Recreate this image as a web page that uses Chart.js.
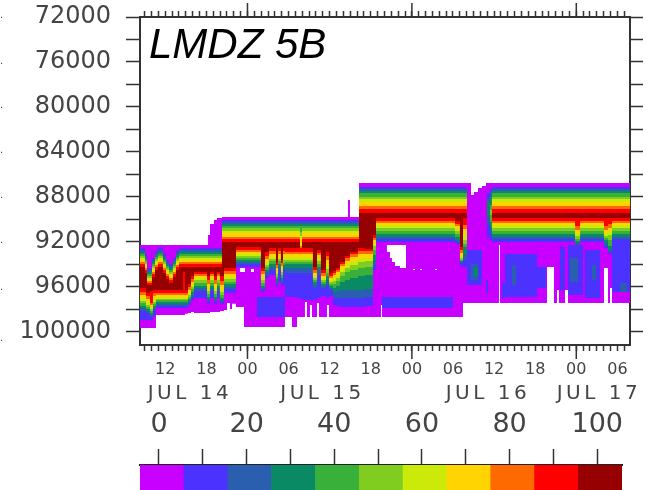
<!DOCTYPE html>
<html>
<head>
<meta charset="utf-8">
<title>LMDZ 5B</title>
<script src="https://cdn.jsdelivr.net/npm/chart.js@4"></script>
<style>
    body { margin: 0; background: #fff; }
    #myChart { position: absolute; left: 0; top: 0; }
    #colorBar { position: absolute; left: 0; top: 405px; }
</style>
</head>
<body>
<canvas id="myChart" width="647" height="490"></canvas>
<canvas id="colorBar" width="647" height="85"></canvas>
<script>
// pressure (Pa) of the cloud fraction bands against hours since JUL 14 00
// every row is [hour, purple, blue, steel, teal, green, ltgreen, lime, yellow, orange, red, darkred]
const barTicks = [0, 10, 20, 30, 40, 50, 60, 70, 80, 90, 100];
const barCenters = [0.7, 10.7, 20.7, 30.7, 40.7, 50.7, 60.7, 70.7, 80.7, 90.7, 100.7];
const bandColors = ["#c800ff", "#4b32ff", "#2a5fb0", "#0a8a64", "#38b03a", "#80cd20", "#ccea0a", "#ffd400", "#ff6a00", "#ff0000", "#960000"];

const startHour = 8.31;
const endHour = 79.84;
const pressureTicks = [72000, 74000, 76000, 78000, 80000, 82000, 84000, 86000, 88000, 90000, 92000, 94000, 96000, 98000, 100000];
const hourTicks = [9, 10, 11, 12, 13, 14, 15, 16, 17, 18, 19, 20, 21, 22, 23, 24, 25, 26, 27, 28, 29, 30, 31, 32, 33, 34, 35, 36, 37, 38, 39, 40, 41, 42, 43, 44, 45, 46, 47, 48, 49, 50, 51, 52, 53, 54, 55, 56, 57, 58, 59, 60, 61, 62, 63, 64, 65, 66, 67, 68, 69, 70, 71, 72, 73, 74, 75, 76, 77, 78, 79];
const dayTickHours = [24, 48, 72];
const dayLabels = ["JUL 14", "JUL 15", "JUL 16", "JUL 17"];
const dayLabelHours = [15.6, 34.95, 59.1, 75.3];
const leftDots = [72090, 76180, 80090, 84100, 88100, 92100, 96300, 100830];

const topFirstDay = [92290, 92550, 92730, 92910, 93090, 93260, 93440, 93620, 93800, 93980, 94240];
const topSecondDay = [89790, 90060, 90240, 90420, 90600, 90770, 91040, 91220, 91570, 91750, 92020];
const topThirdDay = [86770, 87130, 87300, 87480, 87660, 88020, 88190, 88460, 88820, 89080, 89440];

const topRows = [
    [8.30, ...topFirstDay],
    [9.04, 92290, 93090, 93260, 93440, 93620, 93800, 93980, 94150, 94330, 94510, 94780],
    [9.33, 92290, 94330, 94510, 94690, 94870, 95040, 95220, 95400, 95490, 95670, 95850],
    [10.06, 92290, 93440, 93620, 93800, 93980, 94150, 94330, 94510, 94690, 94870, 95130],
    [10.50, 92290, 92820, 93000, 93180, 93350, 93530, 93710, 93890, 94070, 94240, 94510],
    [10.93, ...topFirstDay],
    [11.66, 92290, 93090, 93260, 93440, 93620, 93800, 93980, 94150, 94330, 94510, 94780],
    [12.10, 92290, 93620, 93800, 93980, 94150, 94330, 94510, 94690, 94870, 95040, 95310],
    [12.54, 92290, 93980, 94150, 94330, 94510, 94690, 94870, 95040, 95220, 95400, 95670],
    [13.12, 92290, 93440, 93620, 93800, 93980, 94150, 94330, 94510, 94690, 94870, 95130],
    [13.56, 92290, 92820, 93000, 93180, 93350, 93530, 93710, 93890, 94070, 94240, 94510],
    [14.00, ...topFirstDay],
    [18.23, 91400, 92550, 92730, 92910, 93090, 93260, 93440, 93620, 93800, 93980, 94240],
    [18.53, 90420, 92550, 92730, 92910, 93090, 93260, 93440, 93620, 93800, 93980, 94240],
    [19.11, 90060, 92550, 92730, 92910, 93090, 93260, 93440, 93620, 93800, 93980, 94240],
    [19.55, 89880, 92550, 92730, 92910, 93090, 93260, 93440, 93620, 93800, 93980, 94240],
    [20.28, ...topSecondDay],
    [31.66, 89790, 90060, 90240, 90420, 90600, 91130, 91490, 91840, 92370, 92550, 92730],
    [31.96, ...topSecondDay],
    [38.67, 88280, 90060, 90240, 90420, 90600, 90770, 91040, 91220, 91570, 91750, 92020],
    [38.96, ...topSecondDay],
    [40.28, ...topThirdDay],
    [56.04, 86770, 92730, 97180, 97180, 97180, 97180, 97180, 97180, 97180, 97180, 97180],
    [56.63, 87840, 92730, 93980, 97180, 97180, 97180, 97180, 97180, 97180, 97180, 97180],
    [57.07, 87570, 92730, 93980, 94330, 97180, 97180, 97180, 97180, 97180, 97180, 97180],
    [57.65, 87210, 92730, 97180, 97180, 97180, 97180, 97180, 97180, 97180, 97180, 97180],
    [58.23, 87040, 97180, 97180, 97180, 97180, 97180, 97180, 97180, 97180, 97180, 97180],
    [58.82, 86770, 97180, 97180, 97180, 97180, 97180, 97180, 97180, 97180, 97180, 97180],
    [58.96, 86770, 87660, 88100, 88460, 97180, 97180, 97180, 97180, 97180, 97180, 97180],
    [59.40, 86770, 87300, 87570, 88020, 88730, 89170, 97180, 97180, 97180, 97180, 97180],
    [59.69, ...topThirdDay],
    [79.84, ...topThirdDay]
];

const bottomFirstDay = [
    [8.30, 99670, 98960, 98160, 97890, 97710, 97450, 97270, 97000, 96730, 96470, 96110],
    [9.18, 99670, 98960, 98340, 98160, 97980, 97800, 97620, 97360, 97090, 96820, 96560],
    [9.77, 99670, 98960, 98690, 98510, 98340, 98160, 97980, 97800, 97620, 97450, 96380],
    [10.20, 99670, 98600, 98070, 97890, 97710, 97530, 97360, 97090, 96820, 96560, 96290],
    [10.64, 98510, 97890, 97710, 97530, 97360, 97180, 97090, 96910, 96730, 96560, 96290],
    [14.58, 98510, 97890, 97710, 97530, 97360, 97180, 97090, 96910, 96730, 96560, 94690],
    [14.88, 98420, 97890, 97710, 97530, 97360, 97180, 97090, 96910, 96730, 96560, 96290],
    [15.31, 98340, 97620, 97450, 97270, 97090, 96910, 96730, 96470, 96290, 96020, 95760],
    [15.75, 98250, 97180, 96910, 96730, 96470, 96200, 96020, 95760, 95580, 95310, 95040],
    [16.19, 98340, 97000, 96380, 96110, 95930, 95670, 95400, 95220, 95040, 94870, 94690],
    [18.09, 98340, 97530, 97270, 97090, 96910, 96650, 96380, 96110, 95760, 95400, 95040],
    [18.53, 98250, 97000, 96380, 96110, 95930, 95670, 95400, 95220, 95040, 94870, 94690],
    [19.11, 98250, 97530, 97270, 97090, 96910, 96650, 96380, 96110, 95760, 95400, 95040],
    [19.55, 98250, 97000, 96380, 96110, 95930, 95670, 95400, 95220, 95040, 94870, 94690],
    [19.98, 98160, 97530, 97360, 97180, 97000, 96730, 96470, 96200, 95850, 95490, 95040],
    [20.57, 98070, 96560, 96200, 96020, 95760, 95580, 95310, 95130, 94870, 94600, 94330],
    [21.01, 97450, 96560, 96200, 96020, 95760, 95580, 95310, 95130, 94870, 94600, 94330],
    [21.45, 97980, 96560, 96200, 96020, 95760, 95580, 95310, 95130, 94870, 94600, 94330],
    [21.74, 97530, 96560, 96200, 96020, 95760, 95580, 95310, 95130, 94870, 94600, 94330]
];

const bottomSecondDay = [
    [22.32, 97800, 94240, 93980, 93800, 93620, 93440, 93260, 93090, 92910, 92730, 92460],
    [23.49, 99580, 94240, 93980, 93800, 93620, 93440, 93260, 93090, 92910, 92730, 92460],
    [25.97, 99580, 96470, 96290, 96110, 95930, 95670, 95400, 95130, 94870, 94600, 94330],
    [26.55, 99580, 95220, 94950, 94690, 94510, 94240, 94070, 93800, 93530, 93260, 92910],
    [27.14, 99580, 94950, 94510, 94240, 93980, 93710, 93530, 93350, 93090, 92820, 92550],
    [28.16, 99580, 96020, 95760, 95580, 95310, 95130, 94870, 94600, 94330, 94070, 93800],
    [28.45, 99580, 95580, 94510, 94240, 93980, 93710, 93530, 93350, 93090, 92820, 92550],
    [28.89, 99580, 95930, 95670, 95490, 95220, 94950, 94690, 94420, 94150, 93890, 93620],
    [29.18, 99580, 95850, 94510, 94240, 94070, 93890, 93620, 93350, 93090, 92820, 92550],
    [29.47, 98690, 96910, 94780, 94330, 93980, 93800, 93620, 93350, 93090, 92910, 92550],
    [30.50, 99580, 96910, 94780, 94330, 93980, 93800, 93620, 93350, 93090, 92910, 92550],
    [31.23, 98690, 97000, 94780, 94330, 93980, 93800, 93620, 93350, 93090, 92910, 92550],
    [31.66, 98690, 97000, 94780, 94330, 93980, 93800, 93620, 93350, 93090, 92910, 92730],
    [31.96, 98690, 97180, 94780, 94330, 93980, 93800, 93620, 93350, 93090, 92910, 92550],
    [32.39, 97360, 97180, 94780, 94330, 93980, 93800, 93620, 93350, 93090, 92910, 92550],
    [32.69, 98690, 97180, 94780, 94330, 93980, 93800, 93620, 93350, 93090, 92910, 92550],
    [33.12, 97620, 97180, 94780, 94330, 93980, 93800, 93620, 93350, 93090, 92910, 92550],
    [33.42, 98690, 97180, 94780, 94330, 93980, 93800, 93620, 93350, 93090, 92910, 92550],
    [33.56, 98690, 97180, 96110, 95850, 95580, 95400, 95220, 94950, 94780, 94510, 94240],
    [34.15, 97450, 97000, 94950, 94510, 94240, 93980, 93710, 93440, 93180, 93000, 92730],
    [34.44, 98690, 97000, 94950, 94510, 94240, 93980, 93710, 93440, 93180, 93000, 92730],
    [34.73, 98690, 96820, 96110, 95930, 95760, 95580, 95400, 95220, 95040, 94780, 94510],
    [35.46, 98690, 97000, 95850, 95400, 95040, 94780, 94420, 94070, 93620, 93260, 92910],
    [35.61, 97620, 97000, 95850, 95400, 95040, 94780, 94420, 94070, 93620, 93260, 92910],
    [35.90, 98690, 96820, 96290, 96110, 95930, 95760, 95580, 95400, 95220, 95040, 94780],
    [36.48, 98690, 97620, 97000, 96470, 96110, 95760, 95490, 95220, 94950, 94780, 94600],
    [36.92, 98690, 97710, 97000, 96380, 95930, 95490, 95220, 94950, 94690, 94510, 94330],
    [37.50, 98690, 97800, 97000, 96290, 95580, 95040, 94690, 94420, 94150, 93980, 93800],
    [38.23, 98690, 97800, 97000, 96290, 95400, 94690, 94330, 93980, 93710, 93440, 93260],
    [38.96, 98690, 97800, 97000, 96290, 95220, 94510, 94070, 93710, 93350, 93090, 92910],
    [40.13, 98690, 97800, 97000, 96290, 95040, 94330, 93800, 93440, 93090, 92820, 92550],
    [41.15, 98690, 97710, 96910, 96200, 94950, 94240, 93710, 93440, 93090, 92820, 92640],
    [42.32, 98690, 94510, 94070, 93620, 93180, 92730, 92370, 92110, 91840, 91660, 91400]
];

const bottomThirdDay = [
    [42.76, 98690, 92020, 91750, 91570, 91310, 91040, 90770, 90510, 90330, 90150, 89880],
    [43.49, 97620, 92020, 91750, 91570, 91310, 91040, 90770, 90510, 90330, 90150, 89880],
    [43.64, 98690, 92020, 91750, 91570, 91310, 91040, 90770, 90510, 90330, 90150, 89880],
    [54.29, 98690, 92200, 92020, 91840, 91570, 91310, 91040, 90770, 90600, 90420, 90150],
    [55.02, 98690, 94150, 93890, 93800, 93710, 93620, 93440, 93260, 93000, 92730, 92460],
    [55.46, 97450, 94240, 93620, 93180, 92460, 92200, 91840, 91220, 90860, 90510, 89880],
    [56.04, 97450, 95850, 97180, 97180, 97180, 97180, 97180, 97180, 97180, 97180, 97180],
    [56.63, 97450, 95850, 95400, 97180, 97180, 97180, 97180, 97180, 97180, 97180, 97180],
    [57.07, 97450, 95850, 95400, 95040, 97180, 97180, 97180, 97180, 97180, 97180, 97180],
    [57.65, 97450, 95850, 97180, 97180, 97180, 97180, 97180, 97180, 97180, 97180, 97180],
    [58.23, 97450, 97180, 97180, 97180, 97180, 97180, 97180, 97180, 97180, 97180, 97180],
    [58.96, 97450, 91660, 90510, 89790, 97180, 97180, 97180, 97180, 97180, 97180, 97180],
    [59.40, 97450, 91840, 91220, 90770, 90240, 89620, 97180, 97180, 97180, 97180, 97180]
];

const bottomLastDay = [
    [59.69, 97450, 92020, 91750, 91570, 91310, 91040, 90770, 90510, 90330, 90150, 89880],
    [60.72, 92290, 92020, 91750, 91570, 91310, 91040, 90770, 90510, 90330, 90150, 89880],
    [60.86, 97450, 92020, 91750, 91570, 91310, 91040, 90770, 90510, 90330, 90150, 89880],
    [67.72, 94240, 92020, 91750, 91570, 91310, 91040, 90770, 90510, 90330, 90150, 89880],
    [68.74, 97450, 92020, 91750, 91570, 91310, 91040, 90770, 90510, 90330, 90150, 89880],
    [69.18, 96290, 92020, 91750, 91570, 91310, 91040, 90770, 90510, 90330, 90150, 89880],
    [69.47, 97450, 92020, 91750, 91570, 91310, 91040, 90770, 90510, 90330, 90150, 89880],
    [70.35, 96290, 92020, 91750, 91570, 91310, 91040, 90770, 90510, 90330, 90150, 89880],
    [70.79, 97450, 92020, 91750, 91570, 91310, 91040, 90770, 90510, 90330, 90150, 89880],
    [71.82, 97450, 92460, 92290, 92110, 91930, 91750, 91490, 91220, 90950, 90600, 89880],
    [72.55, 97450, 92020, 91750, 91570, 91310, 91040, 90770, 90510, 90330, 90150, 89880],
    [76.04, 94330, 92550, 92370, 92110, 91840, 91660, 91490, 91220, 90950, 90600, 89880],
    [76.63, 97450, 93090, 92910, 92730, 92370, 91840, 91400, 91040, 90770, 90420, 89880],
    [76.92, 96110, 93090, 92910, 92730, 92370, 91840, 91400, 91040, 90770, 90420, 89880],
    [77.21, 97450, 92020, 91750, 91570, 91310, 91040, 90770, 90510, 90330, 90150, 89880],
    [79.84, 97450, 92020, 91750, 91570, 91310, 91040, 90770, 90510, 90330, 90150, 89880]
];

// low level patches, rows are [hour, top, bottom]; top == bottom means nothing there
const bluePatches = [
    [8.30, 97180, 97180], [25.39, 96910, 98690], [29.47, 97180, 97180],
    [43.64, 96910, 97890], [53.98, 97180, 97180], [58.82, 95400, 96560],
    [59.11, 97180, 97180], [61.15, 95670, 97000], [61.59, 93090, 96910],
    [66.26, 94240, 96110], [67.58, 97180, 97180], [69.62, 92460, 96290],
    [70.35, 97180, 97180], [70.79, 92290, 96730], [72.98, 97180, 97180],
    [73.27, 92730, 97000], [75.46, 97180, 97180], [77.21, 92020, 96470],
    [79.84, 92020, 96470]
];
const steelPatches = [
    [8.30, 97180, 97180], [62.61, 94070, 95850], [63.20, 97180, 97180],
    [71.08, 93440, 95580], [72.25, 97180, 97180], [74.29, 94070, 95400],
    [74.88, 97180, 97180], [78.38, 95670, 96470], [79.40, 97180, 97180],
    [79.84, 97180, 97180]
];
const clearPatches = [
    [8.30, 97180, 97180], [22.90, 94330, 94690], [23.64, 97180, 97180],
    [24.51, 94420, 94690], [24.95, 97180, 97180], [44.36, 92290, 92910],
    [44.80, 92290, 93440], [45.09, 92290, 93800], [45.53, 92290, 94150],
    [46.26, 92290, 94330], [47.14, 97180, 97180], [48.16, 94420, 94510],
    [48.45, 97180, 97180], [49.18, 94420, 94510], [49.47, 97180, 97180],
    [51.37, 94420, 94510], [51.66, 97180, 97180], [79.84, 97180, 97180]
];

const bottomRows = [...bottomFirstDay, ...bottomSecondDay, ...bottomThirdDay, ...bottomLastDay];

function edge(rows, col) {
    return rows.map(row => ({ x: row[0], y: row[col] }));
}

function band(rows, topCol, bottomRowsUsed, bottomCol, color) {
    const line = { pointRadius: 0, borderWidth: 0, stepped: true };
    return [
        { ...line, data: edge(rows, topCol), fill: "+1", backgroundColor: color },
        { ...line, data: edge(bottomRowsUsed, bottomCol), fill: false }
    ];
}

// lower index is painted last, so the inner bands sit on the outer ones
const datasets = [
    ...band(clearPatches, 1, clearPatches, 2, "#ffffff"),
    ...band(steelPatches, 1, steelPatches, 2, bandColors[2]),
    ...band(bluePatches, 1, bluePatches, 2, bandColors[1])
];
for (let level = 10; level >= 0; level--) {
    datasets.push(...band(topRows, level + 1, bottomRows, level + 1, bandColors[level]));
}

const axisColor = "#333";
const textColor = "#444";

const extras = {
    id: "extras",
    afterDraw(chart) {
        const ctx = chart.ctx;
        const x = chart.scales.x;
        const area = chart.chartArea;
        ctx.save();

        // day ticks are longer than the hourly ones
        ctx.strokeStyle = axisColor;
        ctx.lineWidth = 1.5;
        dayTickHours.forEach(h => {
            const px = x.getPixelForValue(h);
            ctx.beginPath();
            ctx.moveTo(px, area.top - 14);
            ctx.lineTo(px, area.top);
            ctx.moveTo(px, area.bottom);
            ctx.lineTo(px, area.bottom + 14);
            ctx.stroke();
        });

        ctx.fillStyle = textColor;
        ctx.textAlign = "center";
        ctx.textBaseline = "middle";
        ctx.font = "20px 'DejaVu Sans'";
        ctx.letterSpacing = "3.5px";
        dayLabels.forEach((label, i) => {
            ctx.fillText(label, x.getPixelForValue(dayLabelHours[i]), 394);
        });
        ctx.letterSpacing = "0px";

        ctx.textAlign = "left";
        ctx.textBaseline = "alphabetic";
        ctx.fillStyle = "#000";
        ctx.font = "italic 42px 'Liberation Sans'";
        ctx.fillText("LMDZ 5B", 149, 58);

        // bits of a cut off axis at the window edge
        ctx.fillStyle = textColor;
        ctx.font = "10px 'DejaVu Sans'";
        leftDots.forEach(p => {
            ctx.fillText(".", 0, chart.scales.y.getPixelForValue(p));
        });
        ctx.restore();
    }
};

function setTicks(values) {
    return scale => { scale.ticks = values.map(v => ({ value: v })); };
}

function noPadding(scale) {
    scale.paddingTop = 0;
    scale.paddingBottom = 0;
    scale.paddingLeft = 0;
    scale.paddingRight = 0;
}

const hourAxis = {
    type: "linear",
    min: startHour,
    max: endHour,
    afterBuildTicks: setTicks(hourTicks)
};
const pressureAxis = {
    type: "linear",
    reverse: true,
    min: 72000,
    max: 101190,
    afterBuildTicks: setTicks(pressureTicks)
};

new Chart(document.getElementById("myChart").getContext("2d"), {
    type: "line",
    data: { datasets: datasets },
    options: {
        responsive: false,
        animation: false,
        events: [],
        layout: { autoPadding: false },
        plugins: {
            legend: { display: false },
            tooltip: { enabled: false },
            title: { display: false }
        },
        scales: {
            x: {
                ...hourAxis,
                position: "bottom",
                afterFit(scale) { scale.height = 145; noPadding(scale); },
                border: { color: axisColor, width: 2 },
                grid: { drawOnChartArea: false, tickLength: 6, tickColor: axisColor, tickWidth: 1.5 },
                ticks: {
                    autoSkip: false,
                    maxRotation: 0,
                    padding: 9,
                    color: textColor,
                    font: { family: "DejaVu Sans", size: 16 },
                    callback(value) {
                        if (value % 6 !== 0) return "";
                        return String(value % 24).padStart(2, "0");
                    }
                }
            },
            x2: {
                ...hourAxis,
                axis: "x",
                position: "top",
                afterFit(scale) { scale.height = 17; noPadding(scale); },
                border: { color: axisColor, width: 2 },
                grid: { drawOnChartArea: false, tickLength: 6, tickColor: axisColor, tickWidth: 1.5 },
                ticks: { display: false, autoSkip: false }
            },
            y: {
                ...pressureAxis,
                position: "left",
                afterFit(scale) { scale.width = 140; noPadding(scale); },
                border: { color: axisColor, width: 2 },
                grid: { drawOnChartArea: false, tickLength: 14, tickColor: axisColor, tickWidth: 1.5 },
                ticks: {
                    autoSkip: false,
                    padding: 15,
                    color: textColor,
                    font: { family: "DejaVu Sans", size: 24 },
                    callback(value) { return value % 4000 === 0 ? String(value) : ""; }
                }
            },
            y2: {
                ...pressureAxis,
                axis: "y",
                position: "right",
                afterFit(scale) { scale.width = 17; noPadding(scale); },
                border: { color: axisColor, width: 2 },
                grid: { drawOnChartArea: false, tickLength: 13, tickColor: axisColor, tickWidth: 1.5 },
                ticks: { display: false, autoSkip: false }
            }
        }
    },
    plugins: [extras]
});

new Chart(document.getElementById("colorBar").getContext("2d"), {
    type: "bar",
    data: {
        datasets: [{
            data: barCenters.map(c => ({ x: c, y: 1 })),
            backgroundColor: bandColors,
            barPercentage: 1,
            categoryPercentage: 1,
            borderWidth: 0
        }]
    },
    options: {
        responsive: false,
        animation: false,
        events: [],
        layout: { autoPadding: false, padding: { left: 140, right: 25 } },
        plugins: {
            legend: { display: false },
            tooltip: { enabled: false }
        },
        scales: {
            x: {
                type: "linear",
                position: "top",
                offset: false,
                min: -4.33,
                max: 105.65,
                afterBuildTicks: setTicks(barTicks),
                afterFit(scale) { scale.height = 60; noPadding(scale); },
                border: { color: "#222", width: 2 },
                grid: { offset: false, drawOnChartArea: false, tickLength: 16, tickColor: axisColor, tickWidth: 1.5 },
                ticks: {
                    autoSkip: false,
                    maxRotation: 0,
                    padding: 8,
                    color: textColor,
                    font: { family: "DejaVu Sans", size: 27 },
                    callback(value) { return value % 20 === 0 ? String(value) : ""; }
                }
            },
            y: { display: false, min: 0, max: 1 }
        }
    }
});
</script>
</body>
</html>
